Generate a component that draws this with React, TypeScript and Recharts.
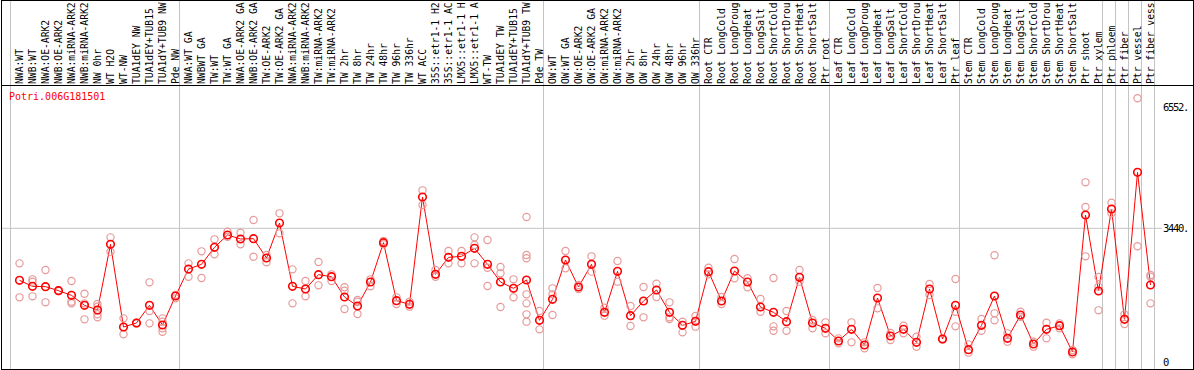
import React from 'react'
import { ComposedChart, Line, Scatter, XAxis, YAxis, ReferenceLine } from 'recharts'

const geneId = 'Potri.006G181501'

const samples = [
  'NWA:WT', 'NWB:WT', 'NWA:OE-ARK2', 'NWB:OE-ARK2', 'NWA:miRNA-ARK2', 'NWB:miRNA-ARK2',
  'NW 0hr', 'WT H2O', 'WT-NW', 'TUA1dEY NW', 'TUA1dEY+TUB15', 'TUA1dY+TUB9 NW', 'Pde NW',
  'NWA:WT GA', 'NWBWT GA', 'TW:WT', 'TW:WT GA', 'NWA:OE-ARK2 GA', 'NWB:OE-ARK2 GA',
  'TW:OE-ARK2', 'TW:OE-ARK2 GA', 'NWA:miRNA-ARK2', 'NWB:miRNA-ARK2', 'TW:miRNA-ARK2',
  'TW:miRNA-ARK2', 'TW 2hr', 'TW 8hr', 'TW 24hr', 'TW 48hr', 'TW 96hr', 'TW 336hr', 'WT ACC',
  '35S::etr1-1 H2', '35S::etr1-1 AC', 'LMX5::etr1-1 H', 'LMX5::etr1-1 A', 'WT-TW',
  'TUA1dEY TW', 'TUA1dEY+TUB15', 'TUA1dY+TUB9 TW', 'Pde TW',
  'OW:WT', 'OW:WT GA', 'OW:OE-ARK2', 'OW:OE-ARK2 GA', 'OW:miRNA-ARK2', 'OW:miRNA-ARK2',
  'OW 2hr', 'OW 8hr', 'OW 24hr', 'OW 48hr', 'OW 96hr', 'OW 336hr',
  'Root CTR', 'Root LongCold', 'Root LongDroug', 'Root LongHeat', 'Root LongSalt',
  'Root ShortCold', 'Root ShortDrou', 'Root ShortHeat', 'Root ShortSalt', 'Ptr root',
  'Leaf CTR', 'Leaf LongCold', 'Leaf LongDroug', 'Leaf LongHeat', 'Leaf LongSalt',
  'Leaf ShortCold', 'Leaf ShortDrou', 'Leaf ShortHeat', 'Leaf ShortSalt', 'Ptr leaf',
  'Stem CTR', 'Stem LongCold', 'Stem LongDroug', 'Stem LongHeat', 'Stem LongSalt',
  'Stem ShortCold', 'Stem ShortDrou', 'Stem ShortHeat', 'Stem ShortSalt',
  'Ptr shoot', 'Ptr xylem', 'Ptr phloem', 'Ptr fiber', 'Ptr vessel', 'Ptr fiber vess',
]

// mean expression per sample (red line)
const means = [
  2105, 1951, 1943, 1840, 1720, 1464, 1344, 3029, 908, 1011,
  1464, 959, 1703, 2396, 2516, 2952, 3268, 3166, 3174, 2678,
  3576, 1951, 1883, 2251, 2199, 1678, 1447, 2063, 3072, 1584,
  1490, 4243, 2259, 2695, 2721, 2926, 2516, 2063, 1900, 2114,
  1079, 1618, 2627, 1934, 2516, 1284, 2336, 1199, 1575, 1857,
  1284, 951, 1053, 2328, 1575, 2345, 2063, 1421, 1284, 1045,
  2182, 1011, 874, 549, 848, 446, 1652, 677, 848, 515,
  1883, 600, 1464, 327, 951, 1703, 617, 1216, 472, 848,
  942, 267, 3781, 1832, 3935, 1105, 4876, 1986,
]

// individual replicates per sample (pale circles)
const replicates = [
  [2541, 1669], [2131, 2071, 1695], [2370, 1541], [1830, 1850], [2088, 1558, 1515],
  [1763, 1515, 1105], [1498, 1430, 1233, 1156], [3208, 2841], [1130, 720], [1000, 1020],
  [2054, 1319, 1002], [1130, 1045, 874, 788], [1729, 1643], [2541, 2199], [2849, 2165],
  [3157, 2772], [3354, 3225], [3328, 3029], [3653, 2712], [2755, 2567],
  [3824, 3311], [2387, 1515], [2088, 1695], [2576, 1977], [2259, 2088],
  [1926, 1840, 1370], [1601, 1558, 1242], [2131, 1951], [3114, 3029], [1669, 1498],
  [1558, 1430], [4414, 4038], [2370, 2199], [2858, 2541], [2858, 2541],
  [3208, 3012, 2541], [3140, 2430, 1960], [2447, 2285, 1421], [2131, 1669],
  [3730, 2755, 2670, 1746, 1515, 1233, 1045],
  [1319, 848], [1900, 1746, 1216], [2858, 2413], [1986, 1883], [2721, 2328],
  [1404, 1199], [2601, 2071], [1447, 934], [1934, 1156], [2020, 1678],
  [1541, 1156, 1113], [1045, 771], [1190, 917], [2430, 2259], [1678, 1498],
  [2653, 2157], [2157, 1926], [1626, 1301], [2165, 925, 814], [1319, 814],
  [2370, 2071], [1088, 874], [1028, 746], [617, 489], [1028, 515],
  [515, 361], [1909, 1387], [754, 575], [942, 746], [660, 404],
  [2011, 1729], [590, 610], [2139, 1301, 925], [463, 250], [1113, 814],
  [2747, 1259, 1079], [746, 532], [1301, 1173], [532, 404], [1019, 617],
  [1002, 874], [318, 207], [4619, 3986, 2721], [2191, 1943, 1336], [4098, 3824],
  [1233, 985], [6774, 2978], [2242, 2199, 1515],
]

// sample index where a new group starts (grey separators)
const groupBreaks = [0, 13, 41, 53, 63, 73, 84, 85, 86, 87, 88]
const yTicks = [0, 3440, 6552]
const gridValue = 3440

const rows = samples.map((name, i) => ({ idx: i, name, mean: means[i] }))
const repPoints = replicates.flatMap((reps, i) => reps.map((value) => ({ idx: i, value })))

const MONO = '"DejaVu Sans Mono", "Liberation Mono", monospace'
const GREY = '#c4c4c4'

function SampleTick(props: any) {
  const { x, payload } = props
  const tx = x - 0.5
  return (
    <text
      x={tx}
      y={84}
      transform={`rotate(-90 ${tx} 84)`}
      dominantBaseline="central"
      textAnchor="start"
      fontFamily={MONO}
      fontSize={9.7}
      fill="#000"
    >
      {samples[payload.value]}
    </text>
  )
}

function ValueTick(props: any) {
  const { x, y, payload } = props
  return (
    <text
      x={x}
      y={y}
      dominantBaseline="central"
      textAnchor="start"
      fontFamily={MONO}
      fontSize={10.5}
      letterSpacing={-1.3}
      fill="#000"
    >
      {payload.value === 0 ? '0' : `${payload.value}.`}
    </text>
  )
}

function MeanDot(props: any) {
  const { cx, cy, index } = props
  if (cx == null || cy == null) return null
  return <circle key={index} cx={cx} cy={cy} r={3.8} fill="none" stroke="#ff0000" strokeWidth={1.6} />
}

function RepDot(props: any) {
  const { cx, cy } = props
  return <circle cx={cx} cy={cy} r={3.6} fill="none" stroke="#e79a9a" strokeWidth={1.2} />
}

export default function App() {
  return (
    <div style={{ position: 'absolute', left: 0, top: 0, width: 1194, height: 370, background: '#fff' }}>
      <ComposedChart width={1194} height={370} data={rows} margin={{ top: 0, right: 1, bottom: 1, left: 1 }}>
        <XAxis
          dataKey="idx"
          type="number"
          orientation="top"
          mirror
          domain={[-1.4231, 87.8846]}
          allowDataOverflow
          ticks={rows.map((r) => r.idx)}
          interval={0}
          height={86}
          axisLine={false}
          tickLine={false}
          tick={<SampleTick />}
        />
        <YAxis
          type="number"
          orientation="right"
          domain={[-169, 9296]}
          allowDataOverflow
          ticks={yTicks}
          interval={0}
          width={31}
          axisLine={false}
          tickLine={false}
          tickSize={0}
          tickMargin={1}
          tick={<ValueTick />}
        />
        {groupBreaks.map((k) => (
          <ReferenceLine key={k} x={k - 0.69} stroke={GREY} strokeWidth={1} />
        ))}
        <ReferenceLine y={gridValue} stroke={GREY} strokeWidth={1} />
        <Scatter data={repPoints} dataKey="value" shape={<RepDot />} isAnimationActive={false} />
        <Line
          type="linear"
          dataKey="mean"
          stroke="#ff0000"
          strokeWidth={1}
          dot={<MeanDot />}
          activeDot={false}
          isAnimationActive={false}
        />
      </ComposedChart>
      <div style={{ position: 'absolute', left: 1, top: 85, width: 1193, height: 1, background: '#000' }} />
      <div
        style={{
          position: 'absolute',
          left: 1,
          top: 0,
          width: 1193,
          height: 370,
          border: '1px solid #000',
          boxSizing: 'border-box',
          pointerEvents: 'none',
        }}
      />
      <div
        style={{
          position: 'absolute',
          left: 9,
          top: 90,
          fontFamily: MONO,
          fontSize: 10,
          lineHeight: '14px',
          color: '#ff0000',
        }}
      >
        {geneId}
      </div>
    </div>
  )
}
